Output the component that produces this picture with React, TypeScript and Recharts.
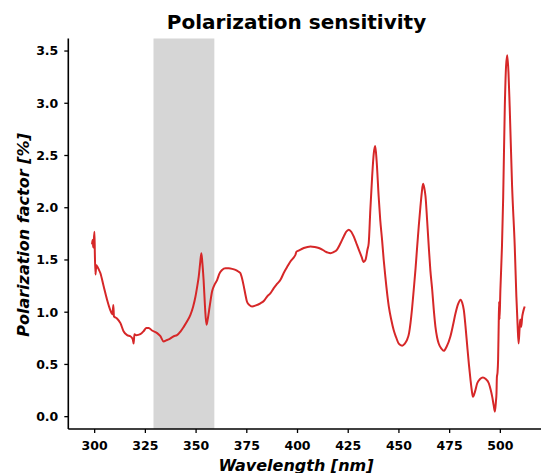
import React from "react";
import {
	LineChart,
	Line,
	XAxis,
	YAxis,
	ReferenceArea,
} from "recharts";

// wavelength [nm] and polarization factor [%]
const wavelength = [
	298.7, 299.0, 299.3, 299.9, 300.1, 300.4, 300.8, 301.2, 302.0, 302.8,
	304.4, 306.1, 307.7, 308.8, 309.2, 309.5, 311.0, 312.7, 314.3, 316.0,
	317.6, 318.8, 319.2, 319.6, 320.5, 322.5, 324.2, 325.5, 326.6, 328.3,
	330.8, 332.4, 334.0, 335.2, 336.5, 339.0, 340.6, 342.3, 343.9, 345.5,
	347.2, 348.5, 349.7, 350.5, 351.3, 352.0, 352.6, 353.1, 353.7, 354.4,
	355.1, 355.7, 356.7, 357.9, 359.0, 360.4, 361.5, 362.8, 364.5, 366.1,
	367.8, 369.4, 370.8, 371.8, 372.7, 373.5, 374.3, 375.1, 376.2, 377.6,
	379.5, 381.7, 383.5, 385.0, 386.6, 388.3, 389.9, 391.6, 393.2, 394.8,
	396.5, 398.0, 399.0, 399.5, 400.5, 403.1, 406.4, 408.5, 410.5, 412.2,
	413.8, 415.0, 416.2, 417.8, 419.5, 421.2, 422.8, 424.0, 425.3, 426.5,
	427.7, 429.0, 430.2, 431.6, 432.6, 433.5, 434.5, 435.1, 435.9, 436.8,
	437.6, 438.3, 439.0, 440.0, 440.8, 441.7, 442.5, 443.3, 445.0, 446.2,
	447.4, 448.6, 449.9, 451.6, 452.9, 454.0, 455.0, 455.7, 456.5, 457.3,
	458.2, 459.0, 459.8, 460.6, 461.3, 461.9, 462.5, 463.1, 463.9, 464.7,
	465.5, 466.4, 467.2, 468.0, 468.8, 469.6, 471.0, 472.1, 473.5, 475.4,
	476.7, 477.9, 479.2, 480.4, 481.2, 482.0, 482.8, 483.7, 484.5, 485.3,
	486.0, 486.5, 487.5, 488.6, 490.0, 491.4, 492.8, 494.3, 495.2, 496.0,
	496.7, 497.3, 497.8, 498.1, 498.3, 498.6, 498.9, 499.2, 499.4, 499.6,
	500.0, 500.8, 501.4, 502.2, 502.8, 503.4, 504.0, 504.6, 505.8, 507.1,
	507.9, 508.5, 509.0, 509.5, 509.8, 510.3, 510.8, 511.2, 511.6, 512.0,
];

const factor = [
	1.65, 1.69, 1.62, 1.77, 1.55, 1.36, 1.45, 1.44, 1.41, 1.375,
	1.25, 1.12, 1.02, 0.98, 1.07, 0.96, 0.94, 0.895, 0.815, 0.78,
	0.77, 0.74, 0.7, 0.79, 0.78, 0.79, 0.82, 0.85, 0.85, 0.825,
	0.8, 0.77, 0.72, 0.73, 0.74, 0.77, 0.78, 0.815, 0.86, 0.91,
	0.975, 1.05, 1.15, 1.24, 1.34, 1.47, 1.565, 1.47, 1.31, 1.05,
	0.88, 0.93, 1.055, 1.2, 1.26, 1.31, 1.37, 1.405, 1.42, 1.42,
	1.415, 1.405, 1.39, 1.375, 1.32, 1.25, 1.17, 1.1, 1.07, 1.055,
	1.065, 1.085, 1.11, 1.15, 1.18, 1.23, 1.27, 1.31, 1.375, 1.43,
	1.485, 1.52, 1.55, 1.58, 1.59, 1.615, 1.63, 1.625, 1.615, 1.6,
	1.58, 1.57, 1.565, 1.575, 1.6, 1.66, 1.725, 1.77, 1.79, 1.77,
	1.725, 1.66, 1.6, 1.53, 1.48, 1.5, 1.6, 1.66, 1.98, 2.3,
	2.52, 2.59, 2.45, 2.11, 1.88, 1.69, 1.5, 1.34, 1.055, 0.93,
	0.83, 0.76, 0.7, 0.68, 0.7, 0.735, 0.8, 0.895, 1.04, 1.215,
	1.42, 1.63, 1.83, 2.01, 2.15, 2.23, 2.19, 2.11, 1.88, 1.63,
	1.4, 1.215, 1.02, 0.86, 0.76, 0.7, 0.65, 0.63, 0.67, 0.77,
	0.88, 0.99, 1.08, 1.12, 1.09, 1.02, 0.87, 0.67, 0.5, 0.35,
	0.24, 0.19, 0.24, 0.32, 0.36, 0.375, 0.36, 0.32, 0.26, 0.19,
	0.11, 0.048, 0.14, 0.225, 0.38, 0.42, 0.55, 0.9, 1.1, 0.93,
	1.2, 1.63, 2.1, 2.97, 3.35, 3.46, 3.3, 2.97, 2.2, 1.63,
	1.15, 0.88, 0.7, 0.85, 0.93, 0.86, 0.96, 1.0, 1.03, 1.055,
];

const xTicks = [300, 325, 350, 375, 400, 425, 450, 475, 500];
const yTicks = [0, 0.5, 1, 1.5, 2, 2.5, 3, 3.5];
const shadedBand = [329, 359];

const data = wavelength.map((wl, i) => ({ wl, pf: factor[i] }));

const FONT = "'DejaVu Sans', sans-serif";
const tickStyle = { fill: "#000", fontSize: 12.5, fontWeight: "bold", fontFamily: FONT };

export default function App() {
	return (
		<div
			style={{
				position: "absolute",
				left: 0,
				top: 0,
				width: 541,
				height: 473,
				overflow: "hidden",
				background: "#fff",
			}}>
			<LineChart
				width={560}
				height={473}
				data={data}
				margin={{ top: 38.5, right: 13, bottom: 0, left: 0 }}>
				<ReferenceArea
					x1={shadedBand[0]}
					x2={shadedBand[1]}
					fill="#d6d6d6"
					fillOpacity={1}
					stroke="none"
				/>
				<XAxis
					dataKey="wl"
					type="number"
					domain={[287, 523]}
					allowDataOverflow
					ticks={xTicks}
					height={44}
					tick={tickStyle}
					tickSize={4}
					tickMargin={8}
					axisLine={{ stroke: "#000", strokeWidth: 1.6 }}
					tickLine={{ stroke: "#000", strokeWidth: 1.3 }}
				/>
				<XAxis
					xAxisId="top"
					orientation="top"
					dataKey="wl"
					type="number"
					domain={[287, 523]}
					allowDataOverflow
					height={0}
					tick={false}
					tickLine={false}
					axisLine={{ stroke: "#000", strokeWidth: 1.6 }}
				/>
				<YAxis
					type="number"
					domain={[-0.118, 3.62]}
					allowDataOverflow
					ticks={yTicks}
					width={68.3}
					tick={tickStyle}
					tickSize={4}
					tickMargin={6}
					tickFormatter={(v: number) => v.toFixed(1)}
					axisLine={{ stroke: "#000", strokeWidth: 1.6 }}
					tickLine={{ stroke: "#000", strokeWidth: 1.3 }}
				/>
				<Line
					dataKey="pf"
					type="monotone"
					stroke="#d62728"
					strokeWidth={2}
					dot={false}
					isAnimationActive={false}
				/>
			</LineChart>
			<svg
				width={541}
				height={473}
				style={{ position: "absolute", left: 0, top: 0, pointerEvents: "none" }}>
				<text
					x={296.5}
					y={29.3}
					textAnchor="middle"
					fontFamily={FONT}
					fontWeight="bold"
					fontSize={20}>
					Polarization sensitivity
				</text>
				<text
					x={296}
					y={470.5}
					textAnchor="middle"
					fontFamily={FONT}
					fontWeight="bold"
					fontStyle="italic"
					fontSize={16}>
					Wavelength [nm]
				</text>
				<text
					transform="translate(28.5,235) rotate(-90)"
					textAnchor="middle"
					fontFamily={FONT}
					fontWeight="bold"
					fontStyle="italic"
					fontSize={16}>
					Polarization factor [%]
				</text>
			</svg>
		</div>
	);
}
